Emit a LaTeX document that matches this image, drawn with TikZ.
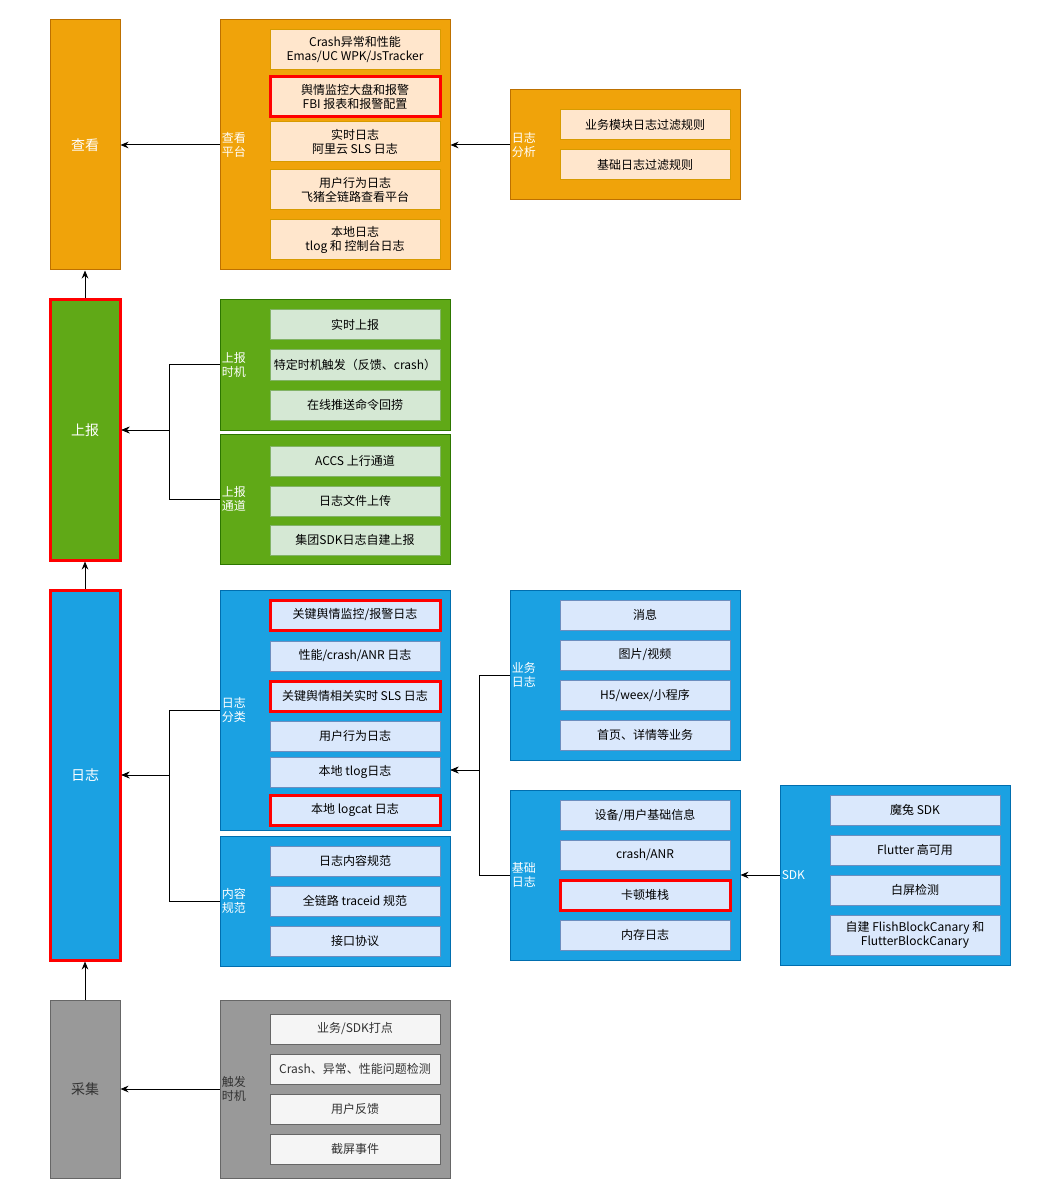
\documentclass[tikz,border=0pt]{standalone}
\usepackage{fontspec}
\setmainfont{Noto Sans CJK SC}
\usetikzlibrary{arrows.meta}

\definecolor{viewfill}{HTML}{F0A30A}
\definecolor{viewline}{HTML}{BD7000}
\definecolor{viewitem}{HTML}{FFE6CC}
\definecolor{viewitemline}{HTML}{D79B00}
\definecolor{upfill}{HTML}{60A917}
\definecolor{upline}{HTML}{2D7600}
\definecolor{upitem}{HTML}{D5E8D4}
\definecolor{upitemline}{HTML}{82B366}
\definecolor{logfill}{HTML}{1BA1E2}
\definecolor{logline}{HTML}{006EAF}
\definecolor{logitem}{HTML}{DAE8FC}
\definecolor{logitemline}{HTML}{6C8EBF}
\definecolor{getfill}{HTML}{999999}
\definecolor{getline}{HTML}{666666}
\definecolor{getitem}{HTML}{F5F5F5}
\definecolor{gettext}{HTML}{333333}
\definecolor{alertred}{HTML}{FF0000}

\tikzset{
  stage/.style={draw, line width=0.75pt, minimum width=52.5pt, inner sep=0pt,
    text=white, font=\fontsize{10.5}{12}\selectfont},
  hotstage/.style={stage, draw=alertred, line width=2.25pt},
  group/.style={draw, line width=0.75pt, minimum width=172.5pt, inner sep=0pt},
  glabel/.style={anchor=west, text=white, align=left, inner sep=1.5pt,
    font=\fontsize{9}{10.5}\selectfont},
  item/.style={draw, line width=0.75pt, minimum width=127.5pt, minimum height=22.5pt,
    inner sep=1pt, align=center, font=\fontsize{9}{10.5}\selectfont},
  hot/.style={item, draw=alertred, line width=2.25pt},
  conn/.style={-{Stealth[length=6pt, width=5pt, inset=2pt]}, line width=0.75pt},
}

\begin{document}
\begin{tikzpicture}[x=0.75pt, y=-0.75pt]
  \path[use as bounding box, fill=white] (0,0) rectangle (1051,1201);

  % stages on the left
  \node[stage, fill=viewfill, draw=viewline, minimum height=187.5pt] (view) at (85,145) {查看};
  \node[hotstage, fill=upfill, minimum height=195pt] (report) at (85,430) {上报};
  \node[hotstage, fill=logfill, minimum height=277.5pt] (logs) at (85,775) {日志};
  \node[stage, fill=getfill, draw=getline, text=gettext, minimum height=133.5pt] (collect) at (85,1089) {采集};

  % view platform
  \node[group, fill=viewfill, draw=viewline, minimum height=187.5pt,
    label={[glabel]west:{查看\\平台}}] (viewplat) at (335,145) {};
  \begin{scope}[item/.append style={fill=viewitem, draw=viewitemline}]
    \foreach \y/\st/\txt [count=\i] in {
        50/item/{Crash异常和性能\\Emas/UC WPK/JsTracker},
        97/hot/{舆情监控大盘和报警\\FBI 报表和报警配置},
        142/item/{实时日志\\阿里云 SLS 日志},
        190/item/{用户行为日志\\飞猪全链路查看平台},
        240/item/{本地日志\\tlog 和 控制台日志}}
      \node[\st, minimum height=30pt] (viewplat-\i) at (355,\y) {\txt};
  \end{scope}

  % log analysis
  \node[group, fill=viewfill, draw=viewline, minimum height=82.5pt,
    label={[glabel]west:{日志\\分析}}] (analysis) at (625,145) {};
  \begin{scope}[item/.append style={fill=viewitem, draw=viewitemline}]
    \foreach \y/\txt [count=\i] in {125/业务模块日志过滤规则, 165/基础日志过滤规则}
      \node[item] (analysis-\i) at (645,\y) {\txt};
  \end{scope}

  % report timing and channel
  \node[group, fill=upfill, draw=upline, minimum height=97.5pt,
    label={[glabel]west:{上报\\时机}}] (timing) at (335,365) {};
  \node[group, fill=upfill, draw=upline, minimum height=97.5pt,
    label={[glabel]west:{上报\\通道}}] (channel) at (335,499) {};
  \begin{scope}[item/.append style={fill=upitem, draw=upitemline}]
    \foreach \y/\txt [count=\i] in {325/实时上报, 365/特定时机触发（反馈、crash）, 405/在线推送命令回捞}
      \node[item] (timing-\i) at (355,\y) {\txt};
    \foreach \y/\txt [count=\i] in {461/ACCS 上行通道, 501/日志文件上传, 540/集团SDK日志自建上报}
      \node[item] (channel-\i) at (355,\y) {\txt};
  \end{scope}

  % log classes and content rules
  \node[group, fill=logfill, draw=logline, minimum height=180pt,
    label={[glabel]west:{日志\\分类}}] (class) at (335,710) {};
  \node[group, fill=logfill, draw=logline, minimum height=97.5pt,
    label={[glabel]west:{内容\\规范}}] (spec) at (335,901) {};
  \node[group, fill=logfill, draw=logline, minimum height=127.5pt,
    label={[glabel]west:{业务\\日志}}] (biz) at (625,675) {};
  \node[group, fill=logfill, draw=logline, minimum height=127.5pt,
    label={[glabel]west:{基础\\日志}}] (base) at (625,875) {};
  \node[group, fill=logfill, draw=logline, minimum height=135pt,
    label={[glabel]west:SDK}] (sdk) at (895,875) {};
  \begin{scope}[item/.append style={fill=logitem, draw=logitemline}]
    \foreach \y/\st/\txt [count=\i] in {
        615/hot/{关键舆情监控/报警日志},
        656/item/{性能/crash/ANR 日志},
        696/hot/{关键舆情相关实时 SLS 日志},
        736/item/{用户行为日志},
        772/item/{本地 tlog日志},
        810/hot/{本地 logcat 日志}}
      \node[\st] (class-\i) at (355,\y) {\txt};
    \foreach \y/\txt [count=\i] in {861/日志内容规范, 901/全链路 traceid 规范, 941/接口协议}
      \node[item] (spec-\i) at (355,\y) {\txt};
    \foreach \y/\txt [count=\i] in {615/消息, 655/{图片/视频}, 695/{H5/weex/小程序}, 735/首页、详情等业务}
      \node[item] (biz-\i) at (645,\y) {\txt};
    \foreach \y/\st/\txt [count=\i] in {
        815/item/{设备/用户基础信息},
        855/item/{crash/ANR},
        895/hot/{卡顿堆栈},
        935/item/{内存日志}}
      \node[\st] (base-\i) at (645,\y) {\txt};
    \foreach \y/\txt [count=\i] in {810/魔兔 SDK, 850/Flutter 高可用, 890/白屏检测}
      \node[item] (sdk-\i) at (915,\y) {\txt};
    \node[item, minimum height=30pt] (sdk-4) at (915,935) {自建 FlishBlockCanary 和\\FlutterBlockCanary};
  \end{scope}

  % trigger timing
  \node[group, fill=getfill, draw=getline, minimum height=133.5pt,
    label={[glabel, text=gettext]west:{触发\\时机}}] (trigger) at (335,1089) {};
  \begin{scope}[item/.append style={fill=getitem, draw=getline, text=gettext}]
    \foreach \y/\txt [count=\i] in {1029/{业务/SDK打点}, 1069/Crash、异常、性能问题检测, 1109/用户反馈, 1149/截屏事件}
      \node[item] (trigger-\i) at (355,\y) {\txt};
  \end{scope}

  % connectors
  \draw[conn] (report) -- (view);
  \draw[conn] (logs) -- (report);
  \draw[conn] (collect) -- (logs);
  \draw[conn] (viewplat) -- (view);
  \draw[conn] (analysis) -- (viewplat);
  \draw[conn] (timing.west) -- ++(-50,0) |- (report.east);
  \draw[conn] (channel.west) -- ++(-50,0) |- (report.east);
  \draw[conn] (class.west) -- ++(-50,0) |- (logs.east);
  \draw[conn] (spec.west) -- ++(-50,0) |- (logs.east);
  \draw[conn] (biz.west) -- ++(-30,0) |- ([yshift=-45pt]class.east);
  \draw[conn] (base.west) -- ++(-30,0) |- ([yshift=-45pt]class.east);
  \draw[conn] (sdk) -- (base);
  \draw[conn] (trigger) -- (collect);
\end{tikzpicture}
\end{document}
